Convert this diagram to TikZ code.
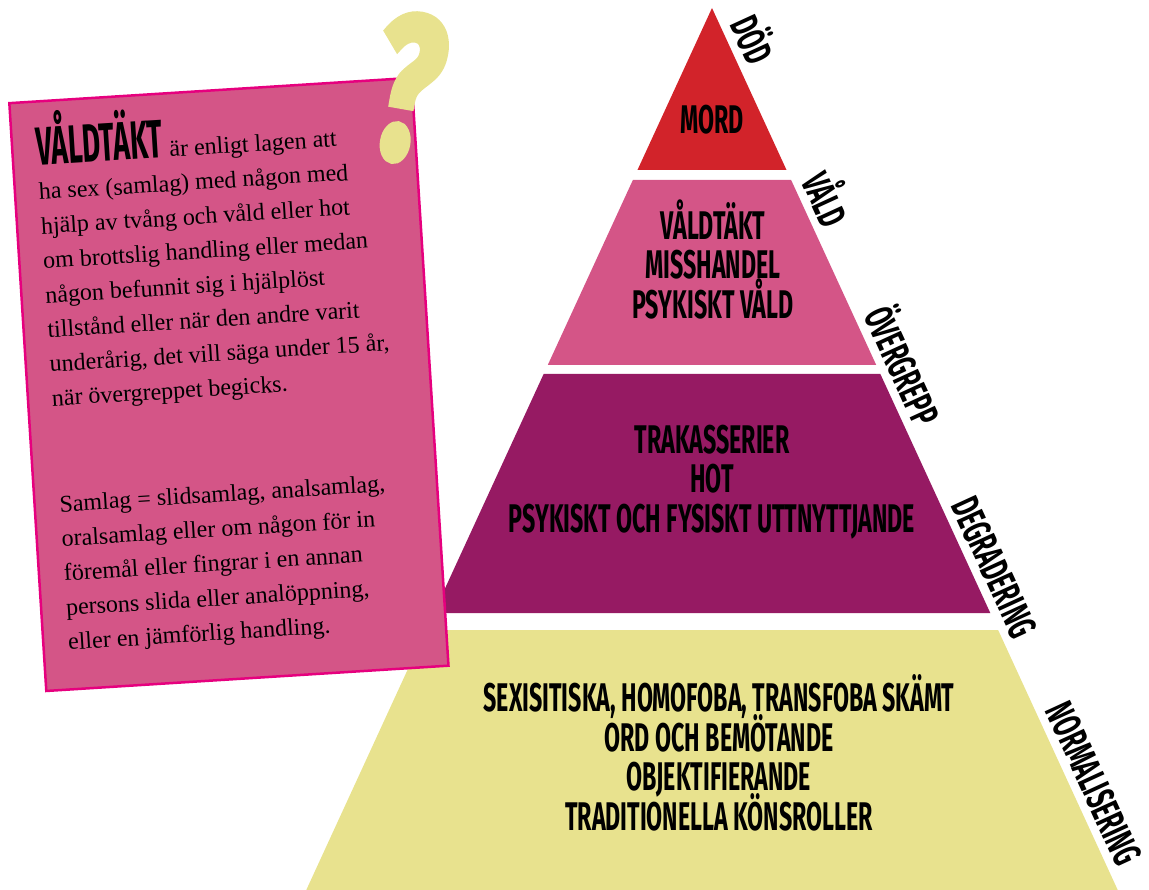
\documentclass[tikz,border=0pt]{standalone}
\usepackage{fontspec}
\setmainfont{Liberation Serif}
\newfontfamily\blockfont[FakeStretch=0.52]{Fira Sans}
\newfontfamily\levelfont[FakeStretch=0.58]{Fira Sans}
\newfontfamily\qfont[FakeStretch=0.66, FakeBold=3]{Fira Sans}
\usetikzlibrary{positioning}
\newcommand\tightlines{\lineskiplimit=-30pt\relax}

\definecolor{mordred}{HTML}{D2232A}
\definecolor{valdpink}{HTML}{D45587}
\definecolor{hotpurple}{HTML}{961A63}
\definecolor{normyellow}{HTML}{E8E28E}
\definecolor{cardedge}{HTML}{E6007E}

\tikzset{
  level/.style={font=\levelfont\bfseries\fontsize{40}{39.5}\selectfont\tightlines,
    align=center, inner sep=0pt},
  side/.style={font=\levelfont\bfseries\fontsize{40}{40}\selectfont, sloped, above, inner sep=8pt},
  card/.style={draw=cardedge, line width=2.5pt, fill=valdpink, anchor=north west,
    minimum width=403pt, minimum height=589pt, inner sep=0pt},
  cardline/.style={font=\fontsize{24}{24}\selectfont, anchor=base west, inner sep=0pt},
}

\begin{document}
\begin{tikzpicture}[x=1pt, y=-1pt]
\useasboundingbox (0,0) rectangle (1149,890);

% the pyramid, one band per level
\coordinate (apex) at (712,8);
\coordinate (foot) at (1117.7,890);
\foreach \col/\ya/\yb in {mordred/8/170, valdpink/180/365, hotpurple/374/613, normyellow/630/890}
  \fill[\col] ({712-0.46*(\ya-8)},\ya) -- ({712+0.46*(\ya-8)},\ya)
    -- ({712+0.46*(\yb-8)},\yb) -- ({712-0.46*(\yb-8)},\yb) -- cycle;

\node[level] (mord) at (712,120) {MORD};
\node[level] (vald) at (713,259) {VÅLDTÄKT\\MISSHANDEL\\PSYKISKT VÅLD};
\node[level] (hot) at (712,482) {TRAKASSERIER\\HOT\\PSYKISKT OCH FYSISKT UTTNYTTJANDE};
\node[level] (skamt) at (719,753) {SEXISITISKA, HOMOFOBA, TRANSFOBA SKÄMT\\ORD OCH BEMÖTANDE\\OBJEKTIFIERANDE\\TRADITIONELLA KÖNSROLLER};

% labels along the right side
\path (apex) -- (foot)
  node[side, pos=0.047] (dod) {DÖD}
  node[side, pos=0.228] (valdlbl) {VÅLD}
  node[side, pos=0.417] (overgrepp) {ÖVERGREPP}
  node[side, pos=0.645] (degradering) {DEGRADERING}
  node[side, pos=0.89] (normalisering) {NORMALISERING};

% the tilted card
\begin{scope}[shift={(8,102)}, rotate=3.6, transform shape]
  \node[card] (card) at (0,0) {};
  \node[cardline] (head) at (25,65) {{\blockfont\bfseries\fontsize{54}{54}\selectfont VÅLDTÄKT} är enligt lagen att};
  \foreach \txt [count=\i] in {ha sex (samlag) med någon med, hjälp av tvång och våld eller hot,
      om brottslig handling eller medan, någon befunnit sig i hjälplöst,
      tillstånd eller när den andre varit, {underårig, det vill säga under 15 år,},
      när övergreppet begicks.}
    \node[cardline] (def\i) at (25,{65+34.5*\i}) {\txt};
  \foreach \txt [count=\i] in {{Samlag = slidsamlag, analsamlag,}, oralsamlag eller om någon för in,
      föremål eller fingrar i en annan, {persons slida eller analöppning,},
      eller en jämförlig handling.}
    \node[cardline] (sam\i) at (26,{412.5+34.5*(\i-1)}) {\txt};
\end{scope}

\node[font=\qfont\bfseries\fontsize{205}{205}\selectfont, text=normyellow, rotate=-10] (qmark) at (408,88) {?};
\end{tikzpicture}
\end{document}
